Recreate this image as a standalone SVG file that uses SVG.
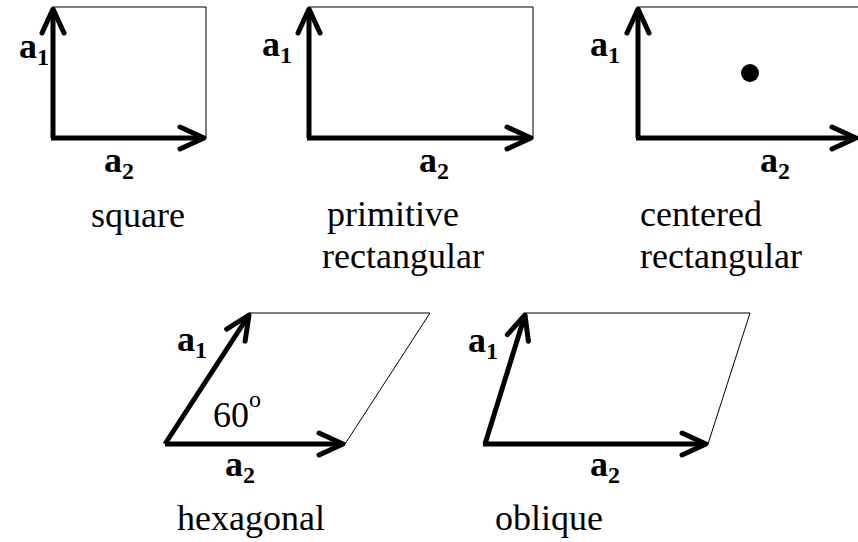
<svg xmlns="http://www.w3.org/2000/svg" width="858" height="542" viewBox="0 0 858 542">
<style>
.vec{fill:none;stroke:#000;stroke-width:5;stroke-linecap:butt;marker-end:url(#head)}
.cell{fill:none;stroke:#000;stroke-width:1}
.lab{font-family:"Liberation Serif","Times New Roman",serif;font-weight:bold;font-size:36px;fill:#000}
.sub{font-size:24px}
.name{font-family:"Liberation Serif","Times New Roman",serif;font-size:36px;fill:#000}
</style>
<defs>
<marker id="head" markerUnits="userSpaceOnUse" orient="auto" markerWidth="40" markerHeight="40" refX="0" refY="0" viewBox="-30 -20 40 40" overflow="visible">
<path d="M-24,-11 L0,0 L-24,11" fill="none" stroke="#000" stroke-width="5" stroke-linecap="round" stroke-linejoin="round"/>
</marker>
</defs>
<rect width="858" height="542" fill="#fff"/>

<g id="square">
<polyline class="cell" points="53,7 206,7 206,138"/>
<text class="lab" x="19" y="58">a<tspan class="sub" dy="7">1</tspan></text>
<text class="lab" x="104" y="172">a<tspan class="sub" dy="7">2</tspan></text>
<text class="name" x="91" y="227">square</text>
</g>

<g id="primitive-rectangular">
<polyline class="cell" points="309,7 533,7 533,138"/>
<text class="lab" x="262" y="56">a<tspan class="sub" dy="7">1</tspan></text>
<text class="lab" x="419" y="172">a<tspan class="sub" dy="7">2</tspan></text>
<text class="name" x="327" y="226">primitive</text>
<text class="name" x="322" y="268">rectangular</text>
</g>

<g id="centered-rectangular">
<polyline class="cell" points="638,7 858,7"/>
<circle cx="750" cy="73" r="9" fill="#000"/>
<text class="lab" x="590" y="56">a<tspan class="sub" dy="7">1</tspan></text>
<text class="lab" x="760" y="172">a<tspan class="sub" dy="7">2</tspan></text>
<text class="name" x="640" y="226">centered</text>
<text class="name" x="640" y="268">rectangular</text>
</g>

<g id="hexagonal">
<polyline class="cell" points="250,313 430,313 345,444"/>
<text class="lab" x="177" y="351">a<tspan class="sub" dy="7">1</tspan></text>
<text class="name" x="213" y="427">60<tspan font-size="24" dy="-20">o</tspan></text>
<text class="lab" x="225" y="476">a<tspan class="sub" dy="7">2</tspan></text>
<text class="name" x="177" y="530">hexagonal</text>
</g>

<g id="oblique">
<polyline class="cell" points="526,313 750,313 708,444"/>
<text class="lab" x="468" y="352">a<tspan class="sub" dy="7">1</tspan></text>
<text class="lab" x="590" y="476">a<tspan class="sub" dy="7">2</tspan></text>
<text class="name" x="495" y="530">oblique</text>
</g>

<g id="connectors">
<path class="vec" d="M53,138 L53,9"/>
<path class="vec" d="M51,138 L204,138"/>
<path class="vec" d="M309,138 L309,9"/>
<path class="vec" d="M307,138 L531,138"/>
<path class="vec" d="M638,138 L638,9"/>
<path class="vec" d="M636,138 L856,138"/>
<path class="vec" d="M165,444 L249,315"/>
<path class="vec" d="M165,444 L343,444"/>
<path class="vec" d="M485,444 L525,315"/>
<path class="vec" d="M483,444 L706,444"/>
</g>
</svg>
